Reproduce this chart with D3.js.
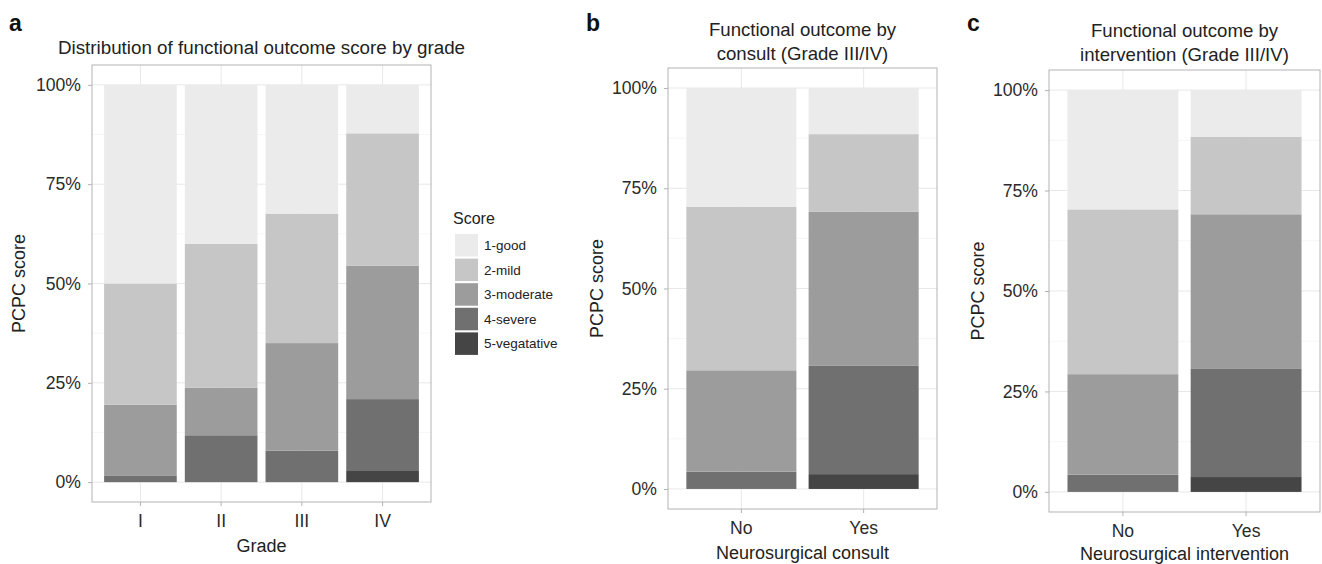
<!DOCTYPE html>
<html>
<head>
<meta charset="utf-8">
<script src="https://cdn.jsdelivr.net/npm/d3@7"></script>
<style>
  html, body { margin: 0; padding: 0; background: #fff; }
  svg { display: block; font-family: "Liberation Sans", Arial, Helvetica, sans-serif; }
</style>
</head>
<body>
<svg id="chart" width="1322" height="564"></svg>
<script>
// ---------- data ----------
const scoreKeys = ["1-good", "2-mild", "3-moderate", "4-severe", "5-vegatative"];
const scoreColors = ["#ebebeb", "#c6c6c6", "#9c9c9c", "#707070", "#454545"];
const yTicks = [0, 25, 50, 75, 100];

// Panel a: by grade (percent of patients)
const gradeCategories = ["I", "II", "III", "IV"];
const gradeGood      = [50.0, 40.0, 32.4, 12.2];
const gradeMild      = [30.5, 36.2, 32.6, 33.3];
const gradeModerate  = [17.8, 12.0, 27.1, 33.6];
const gradeSevere    = [1.7, 11.8, 7.9, 18.1];
const gradeVeg       = [0.0, 0.0, 0.0, 2.8];

// Panel b: by neurosurgical consult (grade III/IV)
const consultCategories = ["No", "Yes"];
const consultGood     = [29.6, 11.5];
const consultMild     = [40.8, 19.3];
const consultModerate = [25.3, 38.5];
const consultSevere   = [4.3, 27.0];
const consultVeg      = [0.0, 3.7];

// Panel c: by neurosurgical intervention (grade III/IV)
const interventionCategories = ["No", "Yes"];
const interventionGood     = [29.7, 11.6];
const interventionMild     = [41.0, 19.3];
const interventionModerate = [25.0, 38.5];
const interventionSevere   = [4.3, 26.9];
const interventionVeg      = [0.0, 3.7];

// ---------- drawing ----------
const svg = d3.select("#chart");
const color = d3.scaleOrdinal().domain(scoreKeys).range(scoreColors);

function buildRows(cats, good, mild, mod, sev, veg) {
  return cats.map((c, i) => ({
    cat: c,
    "1-good": good[i], "2-mild": mild[i], "3-moderate": mod[i],
    "4-severe": sev[i], "5-vegatative": veg[i]
  }));
}

function drawPanel(opt) {
  const { rows, cats, left, right, top, bottom, title, xTitle, label } = opt;
  const g = svg.append("g");
  const x = d3.scaleBand().domain(cats).range([left, right])
    .paddingInner(0.1).paddingOuter(0.15).align(0.5);
  const y = d3.scaleLinear().domain([-5, 105]).range([bottom, top]);

  // background + grid
  g.append("rect").attr("x", left).attr("y", top)
    .attr("width", right - left).attr("height", bottom - top).attr("fill", "#fff");
  const minor = [12.5, 37.5, 62.5, 87.5];
  g.selectAll(".gminor").data(minor).join("line")
    .attr("x1", left).attr("x2", right)
    .attr("y1", d => y(d)).attr("y2", d => y(d))
    .attr("stroke", "#f0f0f0").attr("stroke-width", 0.6);
  g.selectAll(".gmajor").data(yTicks).join("line")
    .attr("x1", left).attr("x2", right)
    .attr("y1", d => y(d)).attr("y2", d => y(d))
    .attr("stroke", "#e8e8e8").attr("stroke-width", 1);
  g.selectAll(".gx").data(cats).join("line")
    .attr("x1", d => x(d) + x.bandwidth() / 2).attr("x2", d => x(d) + x.bandwidth() / 2)
    .attr("y1", top).attr("y2", bottom)
    .attr("stroke", "#e8e8e8").attr("stroke-width", 1);

  // stacked bars (bottom: 5-vegatative ... top: 1-good)
  const stackKeys = scoreKeys.slice().reverse();
  const series = d3.stack().keys(stackKeys)(rows);
  const sg = g.selectAll(".series").data(series).join("g")
    .attr("fill", d => color(d.key));
  sg.selectAll("rect").data(d => d).join("rect")
    .attr("x", d => x(d.data.cat))
    .attr("width", x.bandwidth())
    .attr("y", d => y(d[1]))
    .attr("height", d => Math.max(0, y(d[0]) - y(d[1])));

  // panel border
  g.append("rect").attr("x", left).attr("y", top)
    .attr("width", right - left).attr("height", bottom - top)
    .attr("fill", "none").attr("stroke", "#b3b3b3").attr("stroke-width", 1);

  // axes
  const ya = g.append("g").attr("transform", `translate(${left},0)`)
    .call(d3.axisLeft(y).tickValues(yTicks).tickFormat(d => d + "%").tickSize(4).tickPadding(7));
  ya.select(".domain").remove();
  ya.selectAll(".tick line").attr("stroke", "#b3b3b3");
  ya.selectAll(".tick text").attr("fill", "#2b2b2b").style("font-size", "17.6px")
    .style("font-family", "Liberation Sans, Arial, sans-serif");

  const xa = g.append("g").attr("transform", `translate(0,${bottom})`)
    .call(d3.axisBottom(x).tickSize(4).tickPadding(9));
  xa.select(".domain").remove();
  xa.selectAll(".tick line").attr("stroke", "#b3b3b3");
  xa.selectAll(".tick text").attr("fill", "#2b2b2b").style("font-size", "17.6px")
    .style("font-family", "Liberation Sans, Arial, sans-serif");

  // axis titles
  g.append("text").attr("x", (left + right) / 2).attr("y", opt.xTitleY)
    .attr("text-anchor", "middle").attr("fill", "#222").style("font-size", "18px")
    .text(xTitle);
  g.append("text")
    .attr("transform", `translate(${opt.yTitleX},${(top + bottom) / 2}) rotate(-90)`)
    .attr("text-anchor", "middle").attr("fill", "#222").style("font-size", "18px")
    .text("PCPC score");

  // title
  title.forEach((t, i) => {
    g.append("text").attr("x", (left + right) / 2).attr("y", opt.titleY + i * 24)
      .attr("text-anchor", "middle").attr("fill", "#222").style("font-size", opt.titleSize)
      .text(t);
  });

  // panel label
  g.append("text").attr("x", opt.labelX).attr("y", 31)
    .attr("fill", "#111").style("font-size", "23px").style("font-weight", "bold")
    .text(label);
}

drawPanel({
  rows: buildRows(gradeCategories, gradeGood, gradeMild, gradeModerate, gradeSevere, gradeVeg),
  cats: gradeCategories, left: 92, right: 431, top: 65, bottom: 502,
  title: ["Distribution of functional outcome score by grade"], titleY: 54, titleSize: "18.8px",
  xTitle: "Grade", xTitleY: 552, yTitleX: 25, label: "a", labelX: 9
});
drawPanel({
  rows: buildRows(consultCategories, consultGood, consultMild, consultModerate, consultSevere, consultVeg),
  cats: consultCategories, left: 668, right: 937, top: 68, bottom: 509,
  title: ["Functional outcome by", "consult (Grade III/IV)"], titleY: 36, titleSize: "18.6px",
  xTitle: "Neurosurgical consult", xTitleY: 559, yTitleX: 603, label: "b", labelX: 586
});
drawPanel({
  rows: buildRows(interventionCategories, interventionGood, interventionMild, interventionModerate, interventionSevere, interventionVeg),
  cats: interventionCategories, left: 1049, right: 1320, top: 70, bottom: 512,
  title: ["Functional outcome by", "intervention (Grade III/IV)"], titleY: 37, titleSize: "18.6px",
  xTitle: "Neurosurgical intervention", xTitleY: 559.5, yTitleX: 984, label: "c", labelX: 967
});

// legend (panel a)
const lg = svg.append("g");
lg.append("text").attr("x", 453).attr("y", 224).attr("fill", "#222")
  .style("font-size", "16px").text("Score");
lg.selectAll(".key").data(scoreKeys).join("rect")
  .attr("x", 455).attr("y", (d, i) => 234 + i * 24.6)
  .attr("width", 23).attr("height", 22.5)
  .attr("fill", d => color(d));
lg.selectAll(".lab").data(scoreKeys).join("text")
  .attr("x", 484).attr("y", (d, i) => 234 + i * 24.6 + 11.5)
  .attr("dominant-baseline", "central").attr("fill", "#222")
  .style("font-size", "13.5px").text(d => d);
</script>
</body>
</html>
